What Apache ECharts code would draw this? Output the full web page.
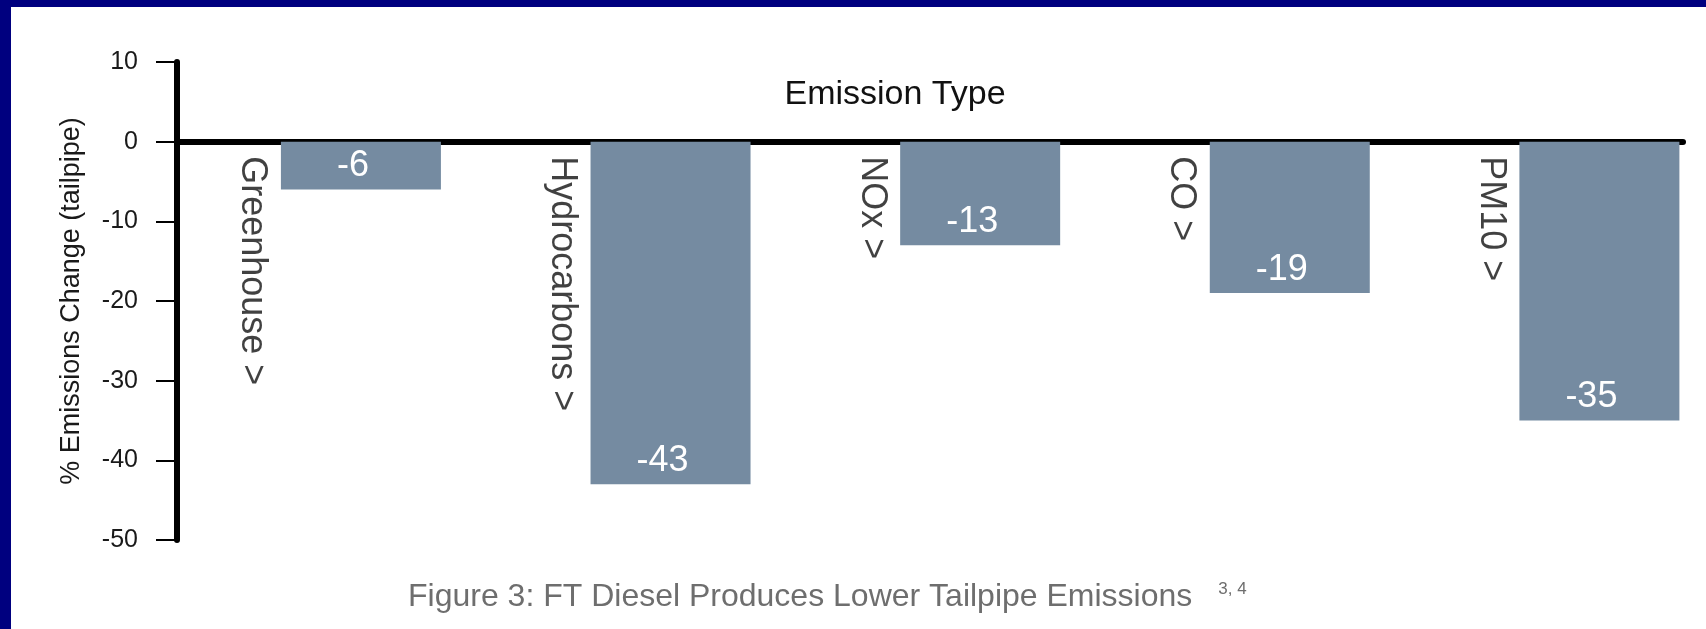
<!DOCTYPE html>
<html>
<head>
<meta charset="utf-8">
<script src="https://cdn.jsdelivr.net/npm/echarts@6/dist/echarts.min.js"></script>
<style>
html, body { margin: 0; padding: 0; background: #fff; }
#chart { width: 1706px; height: 629px; }
</style>
</head>
<body>
<div id="chart"></div>
<script>
// emission categories and % change (tailpipe)
const categories = ['Greenhouse', 'Hydrocarbons', 'NOx', 'CO', 'PM10'];
const changes = [-6, -43, -13, -19, -35];

const font = "'Liberation Sans', Arial, sans-serif";
const chart = echarts.init(document.getElementById('chart'));

chart.setOption({
  animation: false,
  textStyle: { fontFamily: font },
  title: {
    text: 'Figure 3: FT Diesel Produces Lower Tailpipe Emissions{sup|3, 4}',
    left: 403,
    top: 576,
    textStyle: {
      fontSize: 32,
      fontWeight: 'normal',
      color: '#6e6e6e',
      rich: {
        sup: { fontSize: 17, color: '#6e6e6e', verticalAlign: 'top', padding: [0, 0, 0, 26] }
      }
    }
  },
  graphic: [
    { type: 'rect', shape: { x: 0, y: 0, width: 1706, height: 7 }, style: { fill: '#00007f' } },
    { type: 'rect', shape: { x: 0, y: 0, width: 11, height: 629 }, style: { fill: '#00007f' } }
  ],
  grid: { left: 177, right: 23, top: 62, bottom: 89, outerBoundsMode: 'none' },
  xAxis: {
    type: 'value',
    min: -0.594,
    max: 4.27,
    position: 'top',
    axisLine: { onZero: true, lineStyle: { color: '#000', width: 6 } },
    axisTick: { show: false },
    axisLabel: { show: false },
    splitLine: { show: false },
    name: 'Emission Type',
    nameLocation: 'middle',
    nameGap: -50,
    nameTextStyle: { fontSize: 34, color: '#111', padding: [0, 70, 0, 0] }
  },
  yAxis: {
    type: 'value',
    min: -50,
    max: 10,
    interval: 10,
    axisLine: { show: true, onZero: false, lineStyle: { color: '#000', width: 6 } },
    axisTick: { show: true, length: 21, lineStyle: { color: '#000', width: 2 } },
    axisLabel: { fontSize: 25, color: '#1a1a1a', margin: 39 },
    splitLine: { show: false },
    name: '% Emissions Change (tailpipe)',
    nameLocation: 'middle',
    nameGap: 92,
    nameTextStyle: { fontSize: 27, color: '#1a1a1a' }
  },
  series: [
    {
      type: 'bar',
      barWidth: 160,
      data: changes.map((v, i) => [i, v]),
      itemStyle: { color: '#758ba1' },
      label: {
        show: true,
        position: 'insideBottom',
        distance: 5,
        offset: [-8, 0],
        fontSize: 36,
        color: '#fff',
        formatter: (p) => p.value[1]
      }
    },
    {
      // category names, rotated, next to each bar
      type: 'scatter',
      symbolSize: 1,
      itemStyle: { color: 'transparent' },
      silent: true,
      z: 5,
      data: categories.map((c, i) => [i, 0]),
      label: {
        show: true,
        position: [-108, 15],
        rotate: -90,
        align: 'left',
        verticalAlign: 'middle',
        fontSize: 36,
        color: '#111',
        formatter: (p) => categories[p.dataIndex] + ' >'
      }
    }
  ]
});
</script>
</body>
</html>
